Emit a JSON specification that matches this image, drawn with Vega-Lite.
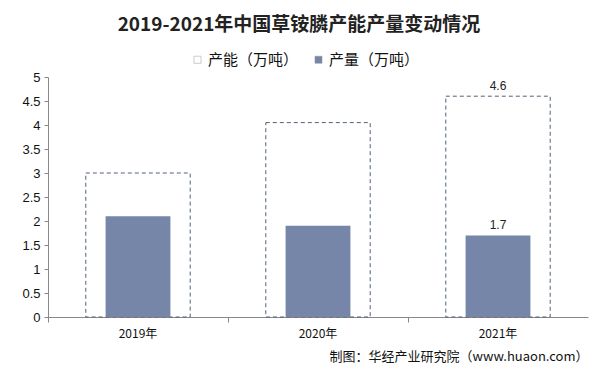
{
  "$schema": "https://vega.github.io/schema/vega-lite/v6.json",
  "width": 540,
  "height": 240,
  "autosize": {"type": "none"},
  "padding": {"left": 48, "top": 77, "right": 10, "bottom": 56},
  "background": "white",
  "title": {
    "text": "2019-2021年中国草铵膦产能产量变动情况",
    "anchor": "middle",
    "font": "Noto Sans CJK SC",
    "fontSize": 19,
    "fontWeight": "bold",
    "color": "#222222",
    "offset": 17,
    "dx": -19
  },
  "data": {
    "values": [
      {"year": "2019年", "type": "产能（万吨）", "value": 3.0, "label": ""},
      {"year": "2020年", "type": "产能（万吨）", "value": 4.05, "label": ""},
      {"year": "2021年", "type": "产能（万吨）", "value": 4.6, "label": "4.6"},
      {"year": "2019年", "type": "产量（万吨）", "value": 2.1, "label": ""},
      {"year": "2020年", "type": "产量（万吨）", "value": 1.9, "label": ""},
      {"year": "2021年", "type": "产量（万吨）", "value": 1.7, "label": "1.7"}
    ]
  },
  "encoding": {
    "x": {
      "field": "year",
      "type": "nominal",
      "sort": null,
      "scale": {"paddingInner": 0, "paddingOuter": 0},
      "axis": {
        "title": "制图：华经产业研究院（www.huaon.com）",
        "titleAnchor": "end",
        "titleAlign": "right",
        "titleFont": "Noto Sans CJK SC",
        "titleFontSize": 13,
        "titleFontWeight": "normal",
        "titleColor": "#111111",
        "titlePadding": 11,
        "labelAngle": 0,
        "labelFont": "Noto Sans CJK SC",
        "labelFontSize": 12,
        "labelColor": "#111111",
        "labelPadding": 6,
        "bandPosition": 0,
        "tickSize": 5,
        "tickColor": "#888888",
        "domainColor": "#888888",
        "grid": false
      }
    },
    "y": {
      "field": "value",
      "type": "quantitative",
      "scale": {"domain": [0, 5], "nice": false},
      "axis": {
        "title": null,
        "values": [0, 0.5, 1, 1.5, 2, 2.5, 3, 3.5, 4, 4.5, 5],
        "format": "~g",
        "labelFont": "Liberation Sans",
        "labelFontSize": 13,
        "labelColor": "#111111",
        "tickSize": 4,
        "tickColor": "#888888",
        "domainColor": "#888888",
        "labelPadding": 4,
        "grid": false
      }
    }
  },
  "layer": [
    {
      "transform": [{"filter": "datum.type === '产能（万吨）'"}],
      "mark": {"type": "bar", "width": {"band": 0.58}, "stroke": "#4F6178", "strokeWidth": 1, "strokeDash": [4, 3]},
      "encoding": {
        "fill": {
          "field": "type",
          "type": "nominal",
          "scale": {"domain": ["产能（万吨）", "产量（万吨）"], "range": ["#ffffff", "#7586A8"]},
          "legend": {
            "title": null,
            "orient": "none",
            "direction": "horizontal",
            "legendX": 142,
            "legendY": -25,
            "symbolType": "square",
            "symbolSize": 50,
            "symbolStrokeColor": "#999999",
            "symbolStrokeWidth": 0.5,
            "labelFont": "Noto Sans CJK SC",
            "labelFontSize": 15,
            "labelColor": "#111111",
            "columnPadding": 12,
            "labelOffset": 3
          }
        }
      }
    },
    {
      "transform": [{"filter": "datum.type === '产量（万吨）'"}],
      "mark": {"type": "bar", "width": {"band": 0.36}},
      "encoding": {
        "fill": {"field": "type", "type": "nominal"}
      }
    },
    {
      "transform": [{"filter": "datum.label !== ''"}],
      "mark": {"type": "text", "dy": -10, "font": "Liberation Sans", "fontSize": 12, "color": "#222222"},
      "encoding": {
        "text": {"field": "label"}
      }
    }
  ],
  "config": {
    "view": {"stroke": null}
  }
}
